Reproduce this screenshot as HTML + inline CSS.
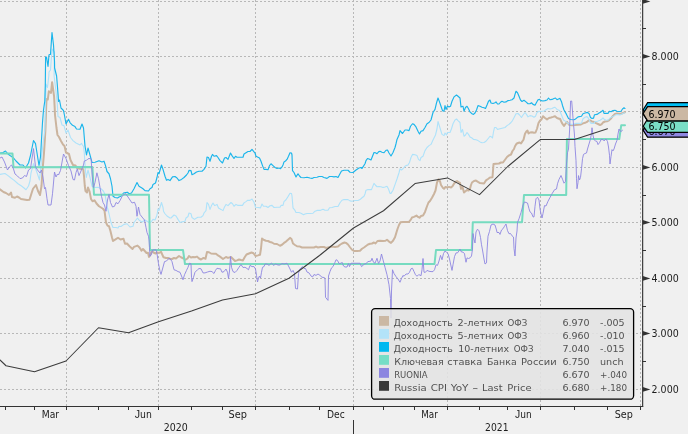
<!DOCTYPE html>
<html lang="ru"><head><meta charset="utf-8"><title>Chart</title>
<style>html,body{margin:0;padding:0;background:#f0f0f0;overflow:hidden}svg{display:block}.ax{font-family:"DejaVu Sans Condensed","DejaVu Sans","Liberation Sans",sans-serif;font-size:10.3px;fill:#1c1c1c}.lg{font-family:"DejaVu Sans","Liberation Sans",sans-serif;font-size:9.5px;fill:#515151}.grid line{stroke:#b8b8b8;stroke-width:1;stroke-dasharray:2 2;shape-rendering:crispEdges}.s{fill:none;stroke-linejoin:round;stroke-linecap:round}</style></head><body>
<svg width="688" height="434" viewBox="0 0 688 434">
<rect width="688" height="434" fill="#f0f0f0"/>
<g class="grid">
<line x1="0" y1="1.5" x2="641" y2="1.5"/>
<line x1="0" y1="56.5" x2="641" y2="56.5"/>
<line x1="0" y1="111.5" x2="641" y2="111.5"/>
<line x1="0" y1="167.5" x2="641" y2="167.5"/>
<line x1="0" y1="222.5" x2="641" y2="222.5"/>
<line x1="0" y1="278.5" x2="641" y2="278.5"/>
<line x1="0" y1="333.5" x2="641" y2="333.5"/>
<line x1="0" y1="389.5" x2="641" y2="389.5"/>
<line x1="66.5" y1="0" x2="66.5" y2="406"/>
<line x1="158.5" y1="0" x2="158.5" y2="406"/>
<line x1="255.5" y1="0" x2="255.5" y2="406"/>
<line x1="353.5" y1="0" x2="353.5" y2="406"/>
<line x1="447.5" y1="0" x2="447.5" y2="406"/>
<line x1="540.5" y1="0" x2="540.5" y2="406"/>
<line x1="640.5" y1="0" x2="640.5" y2="406"/>
</g>
<polyline class="s" stroke="#cbb49e" stroke-width="2" points="0,189.4 3.5,192 6,193 9,195 11,192.5 12,197 15,197.75 17,196.5 19,197.5 21,199 24,199.4 27,200 29.5,199.75 31,195 33,188.75 36,185 38,191 40,195 41.5,186 42.5,170.5 44,153 45,137 45.5,128 46.2,106 46.6,99 47.8,99.5 48.8,91.3 51,92.9 52.1,82.2 53.2,90 54.1,96.6 54.7,108 55,115 56.5,128 57.5,135 59,137 61,141 63,144.5 64.5,146 66,152.5 69,154 70.5,160 73,165 75.5,165.5 77,168 80,168.8 83.3,169.3 84,176 84.8,186 85.5,191 87,192.5 88,187.5 89.5,191.25 91,199 92.5,201.25 94.5,200.3 96.5,203.5 99,206.25 103,208.75 104.5,210.6 106,222.5 107.5,225.6 109,226.25 110.5,231.25 112,237.5 113,241 115.5,239.4 118,237.75 120.5,239.5 123.5,238.75 125,243.75 127,243.5 129.5,246.25 132.5,249 134,246.9 137.5,245.6 139.5,247.5 141.5,250.6 143,249 145,251.25 146.5,253 148,252.75 149,256.9 150.5,254.4 152,250.6 153.5,252.5 155.5,253.5 157.5,252.5 159,253 161,251.75 163.5,257.25 166,258 168,258 170,258.75 172,259 174,258 176,258.5 179,256 181,257.25 183,258.25 185.5,259.75 187.5,258.5 189,256 191,257.5 193,257 195,257.25 197,256.6 199,258.5 201,259.5 203.5,257.9 205.5,258.75 207,252 209,252.25 211,253.5 214,253.75 216,253.75 218,255.4 220,256.6 223,259 226,257 228,257.9 231,257 233,259 235,261 237,260.4 239,259.5 241,260 243,260.4 244.5,257.5 246.5,254.5 249,253.5 251.5,252.5 253.5,253.25 255.5,256 258,255.4 260,254.75 261,248.5 262,238.5 264,240 266,240.75 268,241 270,242 272,242.5 274,243.75 277,244 280,245.75 282,244.75 284,242.9 286,241.6 288,239.75 290,237.9 291.5,239 293,243.5 295,245 297,246.25 300,246.6 302,247.5 314,247.5 316,246.6 318,247.5 320.5,247 324,247 326,247.9 329,247.25 332,246.6 335,247 338,246.6 340,244.75 342,243.5 344.5,242.5 346,242.9 348,244.5 350,247.25 352,249.75 354,251 357,251 360,250.75 362,248.75 364,247.5 366,246 368,244.5 370,243.75 372,243.5 374,242.5 375.5,243.5 377.5,241 380,240.75 383,241 385.5,240.75 387,239.75 389,241.6 391,242.9 393,240.75 395,237.25 396.5,232.25 397.5,229 399,225 400.5,222.25 403,221.9 409,221.9 411,219.4 412,217.5 414,216.9 416.5,215.6 418,216.9 419.5,217.75 421,216 423,215.6 425,211.9 427,206.25 428.5,202.5 430,201 432,197.75 434,194 435.5,190.5 437,182.5 438.5,179.4 440,181.25 441,185 443,188 444,188.75 445.5,186.9 447,187.5 449,186.9 451,187.5 452.5,186.25 454,183.75 455.5,181.9 457,181 459,182.5 460,183 461,188.75 462.5,186.9 464,192.5 465.5,191.25 467,190 468.5,190.6 470,188.75 471,185 472,182.5 474,181 476,180.6 478,181.9 480,183.1 482,183.3 484,183.5 486,180.4 488,179 490,177.5 492.5,177.25 493.5,164 496,163.75 499,163.5 501,162.5 503,162.5 505,159.75 507,157 509,155.4 511,154.5 512.5,151 514,149 515,146.25 516.5,143.75 518,143 519.5,142.5 521,143.5 522,141.9 523.5,139.75 525,133.75 526.5,131.25 527.5,130.6 528.5,133.5 530,132.5 532,132.25 534,132.75 535.5,132.5 537,128.75 538.5,123 540,120.6 541.5,119.4 543,116.25 545,118 547,119.4 549,118 551,117.5 553,116.9 555,116.25 557,118 559,118.75 560,118.75 562,123.1 564,126 565.5,123.75 567,121.8 569,124.7 572,125.3 575,125 578,124.7 581,124.4 583,123.4 585,122.8 587,121.9 588.5,120.6 590.5,120.6 592,121.6 594,121.9 596,123.1 598,124 600,125 601.5,124.4 603,122.5 605,121.5 607,121.25 609,120.25 611,118.4 613,115.9 615,114 617,113.4 619,113.75 621,113.75 623,113 625,112.1"/>
<polyline class="s" stroke="#aee2fa" stroke-width="1.1" points="0,174.4 5,173.5 8,175.6 11,178 14.5,180.6 18,183.75 21.5,186 24,188 26,189.75 28.5,186 30,181 31,173 33.5,163.6 35,167 37.5,174 39.5,180 41,165 42,153 43.2,142 44.9,130 45.5,104 46,84 47.5,87.5 48.8,76 49,72 50.5,70 51.5,56 52.5,49 54.5,52 54.1,76 56,91.6 57.3,104 58,116.5 60,117.5 62,125 64,125.6 66,133 68,130 70.5,137.5 73,140.6 76,143 80,144.9 81.5,143.4 82.3,144.7 83.5,146.5 84.3,153 84.8,161 85.5,171 86.3,177.5 88,170 90,177.5 92,186.25 94,187.5 98,187.25 101,188.75 103.5,191.25 105,194.4 107,206 109,213.75 111,222.5 113,227.5 116,227.5 118,228 119,226.25 121,226.5 124,224.4 127,223.75 130,227 133,226.25 134,222.5 137.5,218 139.5,220.6 142,222 145,220 147,221.25 149,222.5 151,222 153,219.4 155,220 157,215 158,208.75 159,210.6 161.5,202.5 163,207.5 163.5,211.25 165,213.75 167,216 170,218 171,218 174,215 176,216 178,219.4 180,222.5 182,221.9 185,221.25 186,218 188,216.5 189,213 191,213.75 192,217.5 194.5,219.4 196.5,218 198,217.25 201,217.25 203,215.6 204,213 206,210.6 207,202.5 208.5,204.4 210,209.4 211.5,205.6 213,203 214.5,205.6 216,205 217,204.4 218.5,208 221,209.4 223,210.6 224.5,207 226,204.4 228,205.6 231,202.5 232.5,203.75 234,206.25 236,204.4 238,205.4 242.5,205.4 244,202.9 246,201.6 247.5,200.4 250,200.4 252,199 254,202.25 255.5,207.25 258,207.5 260.5,207.9 262,204 263.5,206.25 266,206.25 268,207.5 270,205.75 272,205.4 274,207.5 277,207.25 280,207.25 281,205.4 283,205.4 284,201.6 286,199.75 288,196.6 290,193.25 291.5,193.5 292,196 293,207.9 295,210.4 296,212.5 299,212.5 301,213.25 303.5,214.75 305,214 307,213.5 310,213.5 313,213.25 314.5,211.6 317,210.4 320,210.4 323,209.25 325,210.25 328,210.25 329.5,207.75 332,207.5 335,206.5 338,206.5 340,202.75 342,200.25 344,199.6 348,199.6 350,200.9 352,201.25 355,200.5 358,200.5 360,199.6 362,197.75 364,196.25 365,194 366,190.25 368,189.6 371.5,189.6 373,185.9 374,183.4 375.5,185.25 377,186.75 379,186.5 381,186.75 383,187.5 385,187 387,186.25 388.5,189 390,193.4 391,193.4 393,190.25 395,184.6 397,179 399,172.75 400,168.75 401.5,170 403,168.75 405,166.25 406,165.6 408,165 409.5,162.5 411,157.5 412.5,154.4 415,154.75 417,155.6 418.5,159.4 420,160.6 421,157.5 423,156.25 425,150.6 427,147.5 429,145.6 431,144.4 433,140 435.5,135 437,128.75 438,121.5 439.5,126.25 441,131.25 442,134.4 444,135.6 445,133 446.5,135 447.5,132.5 450,132.5 451.5,128.75 453,123.75 455,120 456.5,119 458,120.6 460,122.5 461,132.5 462.5,129.4 464,136.25 465.5,135 467,132.5 468.5,134.4 470,136.9 472,138 473.5,139.4 476,139.75 478,140.6 480,141.9 482,142.75 484,142.5 486,141.25 488,138.75 490,136.25 491.5,136.9 492.5,138 493.5,131.9 494.5,127.5 496,127.5 497.5,129.4 499,129 501,128.5 503,128 505,127.5 507,125.6 509,124.4 511,122.5 512.5,120.6 514,117.75 516,113.75 518,113.5 519.5,115 521.5,117.5 523,115 525,112.5 526.5,114.4 528,116.9 530,115.6 532,116 534,117.25 535.5,116.25 537,112.5 539,111.25 541,111.5 544,111 546,109.75 548,108.5 550,109 552,108.5 554,107.5 555,107.25 557,109.4 559,110.25 560,111.25 561.5,115 563.5,120 566,121.6 568,123.4 571,124.4 574,124 576,123.4 579,123.4 581.5,123.1 583,118.75 585,117.2 587,116.6 588.5,118.4 590,121.9 591,123.4 594,123.4 595,121.6 597.5,121.25 600,120.3 602,119 603,117.8 604.5,119.6 606,120 608,120.25 610,118 612,117 614,115.9 616,114.6 618,114.6 620,115 622,114 624,113 625,112.75"/>
<polyline class="s" stroke="#1bb5eb" stroke-width="1.15" points="0,153 3,152.5 5.5,151 8,154 10,155.5 13,157.4 16,161 20,165 23,165 25.5,168 28.5,163 30.5,155.5 33.5,140.5 35.5,143.6 37,153 39,165.5 40.5,157 42.5,122.5 43.5,110 44.8,101 45.3,85 45.6,57 46.5,57 48,66.5 49,54.7 50.5,54.4 52,32.5 53.5,45 54.5,61.25 54.6,68 56.6,76 57.4,86 58.2,96.6 58.5,101.5 59.5,100 61,108 63.5,110.5 64.5,115.5 66,124 68.5,119.3 70,122.6 72.5,125.3 75,126.6 76.5,129 80,129.2 82,124 83.5,128 85,146 86.5,155 88,148 90,155 92,162.5 95,162.3 99,160.8 102,162 104,161.2 105.5,165.6 107,171.5 109,173.75 110.5,178.75 112,186.25 113,196.25 115,197.5 117.5,198 119,197 121,196.25 123.5,193 125.5,192.5 127.5,192.25 129,193.75 131.5,193 134,188.75 137,182.5 139,186.25 141.5,187.75 143,188.75 145,190.6 148.5,191 150,188.75 152,187.5 153,184.4 155.5,183 157,177.5 158,172.5 159,173.75 161.5,165 163,169.4 165,176.25 166.5,180.25 168,179.4 170,180.6 172.5,176.9 175,176.5 177,178 179,180.6 181.5,179.4 184,177.5 186.5,175 188,173 189,170.4 191,170.6 192,174.75 194,173.75 196.5,172 199,171.25 202,171.25 204,169.4 206,166.25 207,157 208.5,157.5 210,161.25 211.5,156.25 212.5,154.4 214,156.25 216.5,155.6 218,157.5 220,160.6 222.5,163 224.5,158 226,157.5 228,159.4 230.5,153 232,155.6 234,158.5 235.5,156.25 237,157.25 243,157.25 244,154 246,152.75 248,151.5 250,151.5 252,149.4 254,151.9 255,153 256,156.25 258,157.25 259.5,158 261,161.25 262.5,165.6 264,169.4 266,169.4 268,169.75 269.5,165.6 271,163.75 273,165.6 275,167.5 277,168.5 279,168 280.5,168.75 282,166.9 283,165 284,161.9 285.5,161 287,159.4 288.5,156.25 290,152.75 291.5,153 292,155 292.5,170.6 294,172.5 296,176.9 298,173.75 299.5,176 301,177.5 304,177.75 307,177.25 310,178 312,178.4 314,177.5 317,177.25 319,176.5 322,176.5 324,177.5 327,178.4 329.5,176.5 332,176.5 334,176.9 336,176.5 338,177.5 340,173.75 341.5,171 344,170.25 348,170.25 350,172.25 353,172.5 356,170 359,168 361,167.5 362,168.5 363,166.9 365,163.75 366,160.6 367.5,158.5 369,159 371,160 372.5,156.25 374,152.5 375.5,152.75 377,153.75 378.5,151.9 380,151.25 382,152.25 384,152.75 386,150.25 387.5,150 389,153 391,156 393,152.5 395,147.5 396,143.75 397,139.4 399,135 400,130.6 402.5,133.5 405,130 407,130 409,130.6 410.5,126.25 412.5,123.75 414,124.4 416,126.9 418,131.25 419.5,134 421,131.25 423,130.6 425,127.5 427,123.75 429,122.5 431,120 433,112.5 435,109.4 436.5,103 438,98 439.5,101.9 441,106.25 442.5,110.6 444,111.25 445,105.6 446,109.4 447.5,106 449,106.9 450.5,106.25 452,101.25 454,96.9 456.5,95 458,96.25 460,98 461,106.9 463,106.25 464,111.25 465.5,107.5 467,106.25 468.5,108.75 470,111.9 472,113.75 473.5,114.4 475,113 476.5,110 478,105.6 480,106.25 482,107.25 484,107.75 485.5,108.5 487,105 488.5,101.25 490,100 491,103 493,103.5 495,102.75 496,101.9 497.5,104 499,104 500.5,102.25 502,101.25 504,102.25 506,101.9 508,100.6 510,100.25 512,99.75 514,98 515,94.4 516,91.25 517.5,92.75 519,96.25 520.5,100 522,101.5 524,100.25 526,101.9 528,103.75 530,103.75 531.5,102.75 533,104.4 535,105.25 536.5,102.5 538,99.75 539.5,99.4 541,100.6 543,101 545,100.6 547,100 548.5,98 550,99.75 552,99.4 554,98.5 555.5,98 557,99.75 558.5,99 560,98.4 561.5,101.7 562.5,105.5 564,110 566.5,114.4 568.5,118.4 570.5,119.5 574,119.7 575.5,119 578,116.9 581.5,116.25 583,113.75 585,113 587.5,112.4 589,113.4 590.5,117.5 592,118.4 593.5,118.25 594.5,114.7 597,114.4 599,113.1 601,111.9 603,110.25 604,113.4 608,113.4 609.5,111.25 611,111.75 613,110.5 615,110.25 617,111.25 619,111.5 621,111.25 622.5,109 624,107.75 625,108.4"/>
<polyline class="s" stroke="#76dbc0" stroke-width="2" stroke-linejoin="miter" points="0,153.5 12.5,153.5 13.5,167.2 92.4,167.1 94,194.8 149,194.7 150,250 183,250 185,264 434.5,264 436,250 471.8,250 472.8,222.3 522,222.3 524,195 566.2,195 566.9,139 619.3,139 621.2,125.3 625,125.3"/>
<polyline class="s" stroke="#8d86e1" stroke-width="0.9" points="0,158 2,157 4.5,162 7.5,170 9.5,166.75 11.5,165 13.5,169 15,174 17.5,176 20,178.6 22.5,178 24.5,175.5 26.5,176.5 28.5,170 30.5,168.6 33.5,148.6 35.5,166.75 37.5,170 40,173 41.5,170 43,177 44.5,188.75 45.5,187.5 47,198.75 48,205 51,205 52.5,193.75 54.5,172 56,177 57.5,174 58.5,175 60.5,170.5 63.5,154 66,158.6 68.5,165.5 71,171 73,179.5 74.5,180 76,172.5 77.3,169 79,175.6 81,171 82.5,167.5 83.5,165 84.3,161 86.5,160.3 88,158.8 90.5,158.4 91.2,159.5 91.8,170 92.5,180 93.5,187.5 95,182.5 96.9,172.8 98.5,178.75 100,187.5 101.5,196.25 103,202.5 104.5,205 106,211.25 107.5,200 109,194.4 110.5,202.5 112.5,207 114.5,206.25 116,202.5 118,203.75 120,200.6 122.5,195.6 125.5,193.5 128,197 130,200 132,203 134.5,202.25 136,206.25 137,216.25 138.5,207 140,214.4 142,217 144.5,220 146,227.5 147,232.5 148.5,236.25 149,240 149.5,247.5 150,256.25 151.5,254.4 152.5,250 156,249.75 157,253.75 158.5,263.75 160,271.25 161,274.4 162.5,269 164.5,261.6 166.5,261 168.5,258.75 170,258.5 172,261.6 174,269.75 176,270.4 178,271.6 180,272.25 181.5,276 183,279.75 184.5,274.75 186.5,270.4 188,267.25 189.5,263.25 191,263.75 191.5,277.25 192,281.6 193.5,277.25 195,272.25 197.5,269.75 199,268.5 201,268.75 203,272.9 205,272.9 207.5,272 210,271.25 212,271.6 214,273.5 215.5,270.4 217,268.25 219,268.75 220.5,268.75 222,272.25 224,271.6 226,269 227.5,272.25 228.5,278.5 229.5,271 230.5,256.6 231.5,267.25 233,271.6 235,272.5 237,270.4 239,267.25 241,264.5 243,267.5 245,267.25 247,268.5 248.5,269.75 250,265.4 252,266.6 254,266.6 255.5,269 256.5,275.4 257.5,282 258.5,278 259.5,276 260.5,278 261.5,272.25 262.5,267.25 264,266.6 265,264 267,264 269,265.4 271.5,263 273.5,265.4 275.5,264 278,265 280,265 282,263.5 284,264 287,263.25 288.5,266 290,269 291.5,272.25 293,270.4 294.5,273.5 295.5,288.5 297.5,289 298.5,273.5 299.5,269.5 301,267.9 302.5,266.6 304,268.5 305.5,268.5 307,272 309,272.9 311,276 312.5,277 314,274.5 316,275.4 318,274 320,275.4 322,277.25 324,277.5 325,278.3 325.5,297.25 328,300.4 328.5,276 330,271.5 331.5,267.9 333,266.6 335,262.25 336,259.75 337.5,260.4 339,263.5 341,263.25 342,262.25 343.5,266 345,267 347,267 348.5,263.5 349.5,266.6 351,263.25 360,263.25 361.5,266.6 362.5,266 363.5,264.5 366,263.5 368,261.6 370,261.25 371,261 372,258.25 373.5,262.25 375,263.25 377,258.25 378.5,263.5 380,261 381.5,254 383,259.75 385,267.25 387,274.75 389,284.75 390.5,298.5 391,318 391.5,291 392.5,269.75 394,273.5 396,276.6 398,279 400,282.25 401.5,278.5 403,275.4 404,276.3 406,274 408,274 409.5,272.25 411,268.75 412.5,268.25 414,271.6 415.5,274.75 417,276.25 418.5,274.75 420,275 421,275.75 422,269.75 423,258.5 424,272.25 425.5,272.25 427,270.4 429,271.25 431,271.6 433,271.6 434.5,269.75 436,264.75 437.5,265.4 439,261 440.5,255.4 442,259.75 443.5,253.5 445,251 446.5,252.25 448,253.5 449.5,259 451,266 452,270.4 453,264.75 454.5,256.6 456,252.9 457.5,252.9 459,250.75 460,249 461,251.6 463,252.25 464.5,253.5 465.5,259.75 466,262.25 467,257.9 468.5,258.5 470,257.9 471.5,256 472.5,249 473,233.5 474,239 475,243 476,232 477.5,229.2 479,230.8 480.5,237.4 481.5,244.75 482.5,250 484,259 485,264 486.5,262.9 487,251 488,236.2 489.5,231.4 491,225 493,224 495,225 496.5,230 497,232.5 499,232.5 500,234.4 501.5,230 503,228.75 504.5,226.25 506,224 507.5,230.6 509,233.75 510.5,233.5 512,235.8 513.5,237 514,248.5 515,256 516,238 517,231 517.5,222.5 519,218.75 521,212.5 523,205 524.5,201.9 526,202.5 527.5,203 529,208.75 530,211.9 531.5,213 533,216.9 534,216.9 535,206.25 536,198.75 537.5,197.25 539,200 540,208.75 541,214 542,218 543,213.5 544.5,205.6 546,206 548,201.25 550,197.5 552,193.75 554.5,189.75 556.5,189 557.5,183.75 559,179.4 561,175.5 562.5,179.2 564,183.2 565.5,181.4 566.5,164 567.5,152.75 568.5,149 569.6,130 570.6,101 571.7,101 573.3,122 574.4,134 575,146.5 576,160.5 576.5,178.75 577,188.75 578,182.5 578.5,175.6 579.5,180 580.5,177.5 581.5,168.75 582.5,158.75 583.5,154.4 585,153.5 586.5,153 587.5,149 589,144 590.5,139 591.5,132.75 592,127.75 593,135.25 594,139.6 595.5,140.9 597,141.5 598,144.6 599.5,142.75 601,139.6 603,139.6 604,140.9 606,139 607.5,141.5 608.5,147 609.5,155.25 610,164 611,156.5 612,149.6 613,150.9 614,149 615.5,144 617,140.25 618,134 619,129 620,130.9 621,131.5 622.5,130.25"/>
<polyline class="s" stroke="#3c3c3c" stroke-width="1.05" points="0,360 6,365.75 34.5,371.75 66,361 98.5,327.75 128.5,332.75 158.5,321.75 191.5,311 222.5,300 255.5,293.75 289,278.25 319.5,255.5 353.5,228 383.5,210.75 415,183.6 447.5,177.9 479.5,194.6 507.75,166.5 540.5,139.4 574.5,139.5 607.5,128.8"/>
<rect x="371.6" y="308.6" width="262" height="90.6" rx="3.5" ry="3.5" fill="#e2e2e2" fill-opacity="0.88" stroke="#000" stroke-width="1.3"/>
<rect x="379" y="316" width="10" height="9.8" fill="#cbb8a4"/>
<text class="lg" y="325.5"><tspan x="393.40" textLength="59.50" lengthAdjust="spacingAndGlyphs">Доходность</tspan> <tspan x="457.50" textLength="46.00" lengthAdjust="spacingAndGlyphs">2-летних</tspan> <tspan x="507.50" textLength="19.80" lengthAdjust="spacingAndGlyphs">ОФЗ</tspan></text>
<text class="lg" x="562.4" y="325.5" textLength="27.3" lengthAdjust="spacingAndGlyphs">6.970</text>
<text class="lg" x="600" y="325.5" textLength="24.7" lengthAdjust="spacingAndGlyphs">-.005</text>
<rect x="379" y="329" width="10" height="9.8" fill="#b3e3f9"/>
<text class="lg" y="338.5"><tspan x="393.40" textLength="59.50" lengthAdjust="spacingAndGlyphs">Доходность</tspan> <tspan x="457.50" textLength="46.00" lengthAdjust="spacingAndGlyphs">5-летних</tspan> <tspan x="507.50" textLength="19.80" lengthAdjust="spacingAndGlyphs">ОФЗ</tspan></text>
<text class="lg" x="562.4" y="338.5" textLength="27.3" lengthAdjust="spacingAndGlyphs">6.960</text>
<text class="lg" x="600" y="338.5" textLength="24.7" lengthAdjust="spacingAndGlyphs">-.010</text>
<rect x="379" y="342" width="10" height="9.8" fill="#00b8f0"/>
<text class="lg" y="351.5"><tspan x="393.40" textLength="59.50" lengthAdjust="spacingAndGlyphs">Доходность</tspan> <tspan x="458.15" textLength="51.00" lengthAdjust="spacingAndGlyphs">10-летних</tspan> <tspan x="513.80" textLength="19.70" lengthAdjust="spacingAndGlyphs">ОФЗ</tspan></text>
<text class="lg" x="562.4" y="351.5" textLength="27.3" lengthAdjust="spacingAndGlyphs">7.040</text>
<text class="lg" x="600" y="351.5" textLength="24.7" lengthAdjust="spacingAndGlyphs">-.015</text>
<rect x="379" y="355" width="10" height="9.8" fill="#76dec6"/>
<text class="lg" y="364.5"><tspan x="394.15" textLength="49.50" lengthAdjust="spacingAndGlyphs">Ключевая</tspan> <tspan x="447.30" textLength="35.00" lengthAdjust="spacingAndGlyphs">ставка</tspan> <tspan x="486.90" textLength="29.75" lengthAdjust="spacingAndGlyphs">Банка</tspan> <tspan x="520.90" textLength="35.75" lengthAdjust="spacingAndGlyphs">России</tspan></text>
<text class="lg" x="562.4" y="364.5" textLength="27.3" lengthAdjust="spacingAndGlyphs">6.750</text>
<text class="lg" x="600" y="364.5" textLength="23.6" lengthAdjust="spacingAndGlyphs">unch</text>
<rect x="379" y="368" width="10" height="9.8" fill="#8c86e0"/>
<text class="lg" y="377.5"><tspan x="394.15" textLength="33.50" lengthAdjust="spacingAndGlyphs">RUONIA</tspan></text>
<text class="lg" x="562.4" y="377.5" textLength="27.3" lengthAdjust="spacingAndGlyphs">6.670</text>
<text class="lg" x="600" y="377.5" textLength="27.0" lengthAdjust="spacingAndGlyphs">+.040</text>
<rect x="379" y="381" width="10" height="9.8" fill="#3a3a3a"/>
<text class="lg" y="390.5"><tspan x="394.15" textLength="32.50" lengthAdjust="spacingAndGlyphs">Russia</tspan> <tspan x="430.65" textLength="16.25" lengthAdjust="spacingAndGlyphs">CPI</tspan> <tspan x="450.65" textLength="17.85" lengthAdjust="spacingAndGlyphs">YoY</tspan> <tspan x="472.30" textLength="6.00" lengthAdjust="spacingAndGlyphs">-</tspan> <tspan x="482.00" textLength="20.65" lengthAdjust="spacingAndGlyphs">Last</tspan> <tspan x="507.30" textLength="24.35" lengthAdjust="spacingAndGlyphs">Price</tspan></text>
<text class="lg" x="562.4" y="390.5" textLength="27.3" lengthAdjust="spacingAndGlyphs">6.680</text>
<text class="lg" x="600" y="390.5" textLength="27.0" lengthAdjust="spacingAndGlyphs">+.180</text>
<g stroke="#333" stroke-width="1.4" fill="none">
<line x1="642.65" y1="0" x2="642.65" y2="407" stroke-width="1.15"/>
<line x1="0" y1="406.45" x2="643.2" y2="406.45" stroke-width="1.15"/>
</g>
<g stroke="#333" stroke-width="1" shape-rendering="crispEdges">
<line x1="5.5" y1="406" x2="5.5" y2="410"/>
<line x1="34.5" y1="406" x2="34.5" y2="410"/>
<line x1="66.5" y1="406" x2="66.5" y2="410"/>
<line x1="98.5" y1="406" x2="98.5" y2="410"/>
<line x1="128.5" y1="406" x2="128.5" y2="410"/>
<line x1="158.5" y1="406" x2="158.5" y2="410"/>
<line x1="191.5" y1="406" x2="191.5" y2="410"/>
<line x1="222.5" y1="406" x2="222.5" y2="410"/>
<line x1="255.5" y1="406" x2="255.5" y2="410"/>
<line x1="289.5" y1="406" x2="289.5" y2="410"/>
<line x1="319.5" y1="406" x2="319.5" y2="410"/>
<line x1="353.5" y1="406" x2="353.5" y2="410"/>
<line x1="383.5" y1="406" x2="383.5" y2="410"/>
<line x1="414.5" y1="406" x2="414.5" y2="410"/>
<line x1="447.5" y1="406" x2="447.5" y2="410"/>
<line x1="479.5" y1="406" x2="479.5" y2="410"/>
<line x1="507.5" y1="406" x2="507.5" y2="410"/>
<line x1="540.5" y1="406" x2="540.5" y2="410"/>
<line x1="574.5" y1="406" x2="574.5" y2="410"/>
<line x1="607.5" y1="406" x2="607.5" y2="410"/>
<line x1="640.5" y1="406" x2="640.5" y2="410"/>
<line x1="642" y1="28.5" x2="646" y2="28.5"/>
<line x1="642" y1="84.5" x2="646" y2="84.5"/>
<line x1="642" y1="139.5" x2="646" y2="139.5"/>
<line x1="642" y1="195.5" x2="646" y2="195.5"/>
<line x1="642" y1="250.5" x2="646" y2="250.5"/>
<line x1="642" y1="306.5" x2="646" y2="306.5"/>
<line x1="642" y1="361.5" x2="646" y2="361.5"/>
<line x1="353.5" y1="420" x2="353.5" y2="434"/>
</g>
<path d="M642.8 -0.8999999999999999 L650.4 1.4 L642.8 3.6999999999999997 Z" fill="#333"/>
<path d="M642.8 54.1 L650.4 56.4 L642.8 58.699999999999996 Z" fill="#333"/>
<text class="ax" x="651.6" y="59.90" textLength="27.1" lengthAdjust="spacingAndGlyphs">8.000</text>
<path d="M642.8 109.10000000000001 L650.4 111.4 L642.8 113.7 Z" fill="#333"/>
<text class="ax" x="651.6" y="114.90" textLength="27.1" lengthAdjust="spacingAndGlyphs">7.000</text>
<path d="M642.8 165.1 L650.4 167.4 L642.8 169.70000000000002 Z" fill="#333"/>
<text class="ax" x="651.6" y="170.90" textLength="27.1" lengthAdjust="spacingAndGlyphs">6.000</text>
<path d="M642.8 220.1 L650.4 222.4 L642.8 224.70000000000002 Z" fill="#333"/>
<text class="ax" x="651.6" y="225.90" textLength="27.1" lengthAdjust="spacingAndGlyphs">5.000</text>
<path d="M642.8 276.09999999999997 L650.4 278.4 L642.8 280.7 Z" fill="#333"/>
<text class="ax" x="651.6" y="281.90" textLength="27.1" lengthAdjust="spacingAndGlyphs">4.000</text>
<path d="M642.8 331.09999999999997 L650.4 333.4 L642.8 335.7 Z" fill="#333"/>
<text class="ax" x="651.6" y="336.90" textLength="27.1" lengthAdjust="spacingAndGlyphs">3.000</text>
<path d="M642.8 387.09999999999997 L650.4 389.4 L642.8 391.7 Z" fill="#333"/>
<text class="ax" x="651.6" y="392.90" textLength="27.1" lengthAdjust="spacingAndGlyphs">2.000</text>
<text class="ax" x="41.75" y="417.8" textLength="17.40" lengthAdjust="spacingAndGlyphs">Mar</text>
<text class="ax" x="134.75" y="417.8" textLength="17.05" lengthAdjust="spacingAndGlyphs"><tspan style="font-family:Liberation Sans,sans-serif;font-size:10.6px">J</tspan>un</text>
<text class="ax" x="228.50" y="417.8" textLength="18.40" lengthAdjust="spacingAndGlyphs">Sep</text>
<text class="ax" x="327.00" y="417.8" textLength="17.65" lengthAdjust="spacingAndGlyphs">Dec</text>
<text class="ax" x="421.25" y="417.8" textLength="16.65" lengthAdjust="spacingAndGlyphs">Mar</text>
<text class="ax" x="515.00" y="417.8" textLength="16.65" lengthAdjust="spacingAndGlyphs"><tspan style="font-family:Liberation Sans,sans-serif;font-size:10.6px">J</tspan>un</text>
<text class="ax" x="614.75" y="417.8" textLength="18.15" lengthAdjust="spacingAndGlyphs">Sep</text>
<text class="ax" x="163.8" y="430.6" textLength="24" lengthAdjust="spacingAndGlyphs">2020</text>
<text class="ax" x="485.1" y="430.6" textLength="23.4" lengthAdjust="spacingAndGlyphs">2021</text>
<path d="M643.2 129.7 L647.6 122.7 L692 122.7 L692 136.7 L647.6 136.7 Z" fill="#3a3a3a" stroke="#000" stroke-width="1.2" stroke-linejoin="miter"/>
<text class="ax" x="648.5" y="133.6" textLength="27.1" lengthAdjust="spacingAndGlyphs" style="fill:#fff">6.680</text>
<path d="M643.2 130.3 L647.6 123.4 L692 123.4 L692 137.05 L647.6 137.05 Z" fill="#8f88e1" stroke="#000" stroke-width="1.2" stroke-linejoin="miter"/>
<text class="ax" x="648.5" y="134.8" textLength="27.1" lengthAdjust="spacingAndGlyphs" style="fill:#000">6.670</text>
<path d="M643.2 126.2 L647.6 118.9 L692 118.9 L692 132.3 L647.6 132.3 Z" fill="#7adec6" stroke="#000" stroke-width="1.2" stroke-linejoin="miter"/>
<text class="ax" x="648.5" y="129.6" textLength="27.1" lengthAdjust="spacingAndGlyphs" style="fill:#000">6.750</text>
<path d="M643.2 109.7 L647.6 102.6 L692 102.6 L692 116.7 L647.6 116.7 Z" fill="#00bdf2" stroke="#000" stroke-width="1.2" stroke-linejoin="miter"/>
<text class="ax" x="648.5" y="113.7" textLength="27.1" lengthAdjust="spacingAndGlyphs" style="fill:#000">7.040</text>
<path d="M643.2 114.2 L647.6 107.2 L692 107.2 L692 121.0 L647.6 121.0 Z" fill="#b3e3f9" stroke="#000" stroke-width="1.2" stroke-linejoin="miter"/>
<text class="ax" x="648.5" y="118" textLength="27.1" lengthAdjust="spacingAndGlyphs" style="fill:#000">6.960</text>
<path d="M643.2 113.5 L647.6 106.6 L692 106.6 L692 120.8 L647.6 120.8 Z" fill="#cbb8a3" stroke="#000" stroke-width="1.2" stroke-linejoin="miter"/>
<text class="ax" x="648.5" y="117.5" textLength="27.1" lengthAdjust="spacingAndGlyphs" style="fill:#000">6.970</text>
</svg></body></html>
